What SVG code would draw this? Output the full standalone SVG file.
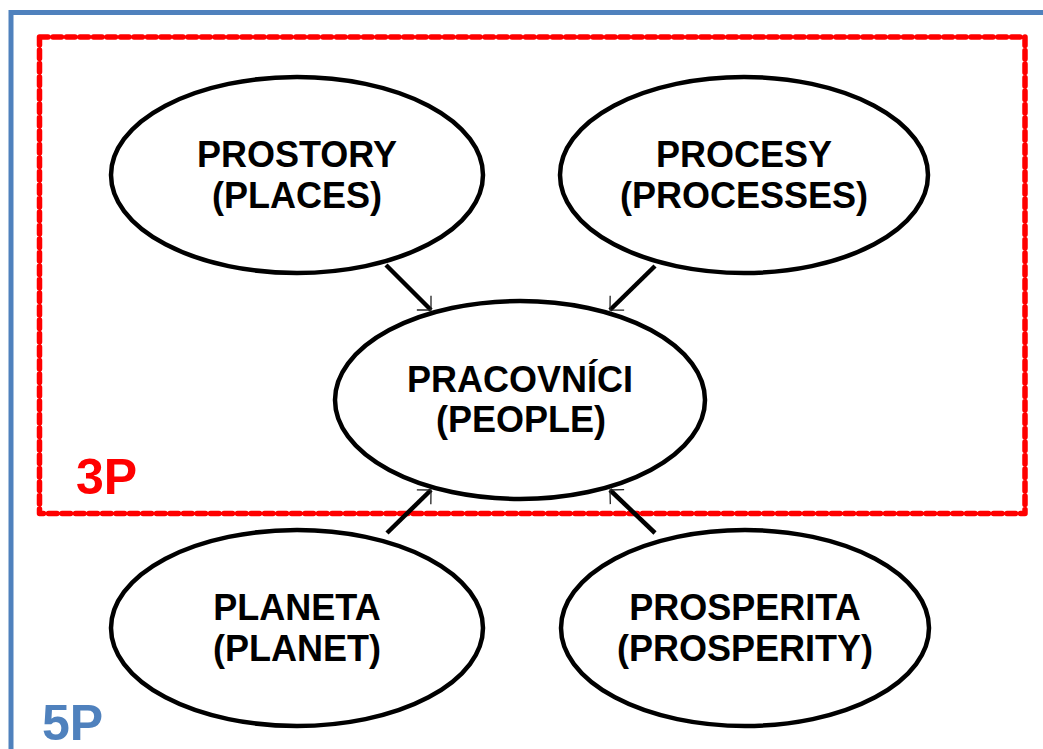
<svg xmlns="http://www.w3.org/2000/svg" width="1043" height="749" viewBox="0 0 1043 749">
  <defs>
    <style>
      .node { fill: #FFFFFF; stroke: #000000; stroke-width: 4.5; }
      .label { font-family: "Liberation Sans", Arial, sans-serif; font-weight: bold; font-size: 36px; fill: #000000; text-anchor: middle; }
      .link { stroke: #000000; stroke-width: 4.5; fill: none; marker-end: url(#tip); }
      .frame { fill: none; stroke: #4F81BD; stroke-width: 5; }
      .group3p { fill: none; stroke: #FF0000; stroke-width: 5.5; stroke-dasharray: 8.5 5; stroke-linecap: round; stroke-linejoin: round; }
      .tag { font-family: "Liberation Sans", Arial, sans-serif; font-weight: bold; font-size: 50px; }
    </style>
    <!-- thin open arrowhead -->
    <marker id="tip" viewBox="-12 -12 14 24" markerUnits="userSpaceOnUse" markerWidth="14" markerHeight="24" refX="0" refY="0" orient="auto">
      <path d="M -10,-10 L 0,0 L -10,10" fill="none" stroke="#222222" stroke-width="1.3"/>
    </marker>
  </defs>

  <rect width="1043" height="749" fill="#FFFFFF"/>

  <!-- outer 5P frame -->
  <path class="frame" d="M 11,749 V 12.5 H 1043"/>
  <text class="tag" x="42" y="740" fill="#4F81BD">5P</text>

  <!-- inner 3P group -->
  <rect class="group3p" x="39.5" y="37" width="985.5" height="476.5"/>
  <text class="tag" x="76" y="494" fill="#FF0000">3P</text>

  <!-- connectors -->
  <g id="connectors">
    <line class="link" x1="386" y1="265" x2="431" y2="310"/>
    <line class="link" x1="655" y1="266" x2="610" y2="310"/>
    <line class="link" x1="387" y1="533" x2="431" y2="490"/>
    <line class="link" x1="655" y1="533" x2="610" y2="490"/>
  </g>

  <g id="node-prostory">
    <ellipse class="node" cx="297" cy="175" rx="186" ry="98"/>
    <text class="label" x="297" y="167">PROSTORY</text>
    <text class="label" x="297" y="208">(PLACES)</text>
  </g>

  <g id="node-procesy">
    <ellipse class="node" cx="744" cy="175" rx="184" ry="98"/>
    <text class="label" x="744" y="167">PROCESY</text>
    <text class="label" x="744" y="208">(PROCESSES)</text>
  </g>

  <g id="node-pracovnici">
    <ellipse class="node" cx="520" cy="400" rx="185" ry="99"/>
    <text class="label" x="520" y="392">PRACOVNÍCI</text>
    <text class="label" x="521" y="432">(PEOPLE)</text>
  </g>

  <g id="node-planeta">
    <ellipse class="node" cx="297" cy="628" rx="186" ry="98"/>
    <text class="label" x="297" y="620">PLANETA</text>
    <text class="label" x="297" y="661">(PLANET)</text>
  </g>

  <g id="node-prosperita">
    <ellipse class="node" cx="745" cy="628" rx="184" ry="98"/>
    <text class="label" x="745" y="620">PROSPERITA</text>
    <text class="label" x="745" y="661">(PROSPERITY)</text>
  </g>
</svg>
